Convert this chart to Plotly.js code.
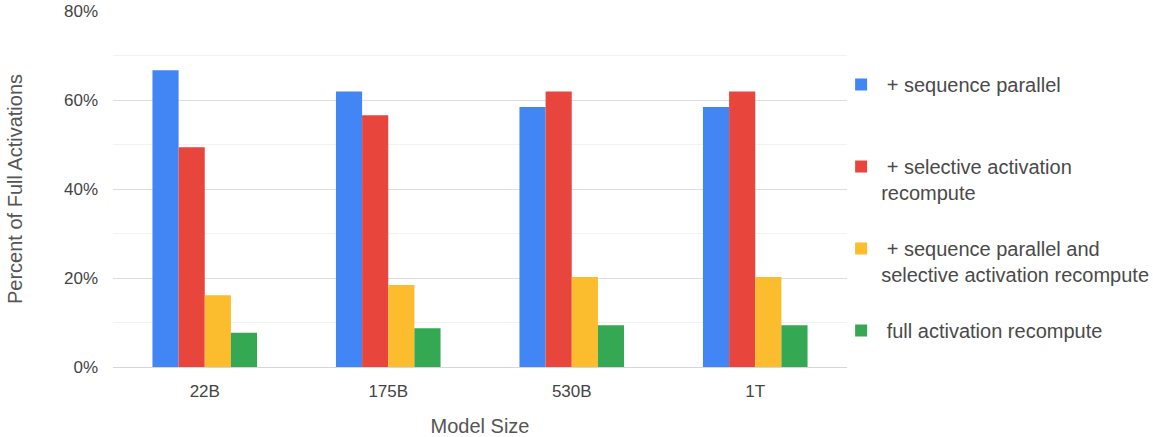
<!DOCTYPE html>
<html><head><meta charset="utf-8">
<script src="https://cdn.plot.ly/plotly-3.0.1.min.js"></script>
<style>html,body{margin:0;padding:0;background:#fff}#chart{width:1153px;height:437px}</style>
</head><body><div id="chart"></div>
<script>
const categories = ["22B", "175B", "530B", "1T"];
const seqParallel = [66.7, 61.9, 58.4, 58.4];
const selectiveRecompute = [49.4, 56.6, 61.9, 61.9];
const seqParallelSelective = [16.1, 18.4, 20.2, 20.2];
const fullRecompute = [7.7, 8.7, 9.4, 9.4];
const seriesNames = [
  "\u00a0+ sequence parallel<br>\u00a0",
  "\u00a0+ selective activation<br>recompute",
  "\u00a0+ sequence parallel and<br>selective activation recompute",
  "\u00a0full activation recompute"
];
const colors = ["#4285F4", "#E8453C", "#FBBC2D", "#34A853"];
const yTickVals = [0, 20, 40, 60, 80];
const yTickText = ["0%", "20%", "40%", "60%", "80%"];

const seriesData = [seqParallel, selectiveRecompute, seqParallelSelective, fullRecompute];
const traces = seriesData.map((vals, i) => ({
  type: "bar",
  name: seriesNames[i],
  x: categories,
  y: vals,
  legendgroup: "g" + i,
  marker: {color: colors[i], line: {width: 0}},
  hoverinfo: "x+y+name"
}));

const layout = {
  width: 1153, height: 437,
  paper_bgcolor: "#fff", plot_bgcolor: "#fff",
  margin: {l: 113, r: 306, t: 11, b: 70, autoexpand: false},
  font: {family: "Liberation Sans, Arial, sans-serif", color: "#444", size: 17},
  barmode: "group",
  bargap: 0.43,
  bargroupgap: 0,
  showlegend: true,
  legend: {
    x: 0.992, xanchor: "left", y: 0.848, yanchor: "top",
    valign: "top",
    tracegroupgap: 27,
    font: {size: 20, color: "#4a4a4a"},
    bgcolor: "rgba(0,0,0,0)"
  },
  xaxis: {
    showgrid: false, showline: false, ticks: "",
    ticklabelstandoff: 12,
    tickfont: {size: 17, color: "#444"},
    title: {text: "Model Size", font: {size: 20, color: "#555"}, standoff: 21}
  },
  yaxis: {
    range: [0, 80],
    tickvals: yTickVals, ticktext: yTickText,
    showgrid: true, gridcolor: "#dedede", gridwidth: 1,
    zeroline: true, zerolinecolor: "#d6d6d6", zerolinewidth: 1,
    minor: {dtick: 10, showgrid: true, gridcolor: "#f2f2f2", gridwidth: 1, ticks: ""},
    showline: false, ticks: "",
    ticklabelstandoff: 14,
    tickfont: {size: 17, color: "#444"},
    title: {text: "Percent of Full Activations", font: {size: 20, color: "#555"}, standoff: 35}
  }
};

Plotly.newPlot("chart", traces, layout, {displayModeBar: false, staticPlot: true});
</script>
</body></html>
